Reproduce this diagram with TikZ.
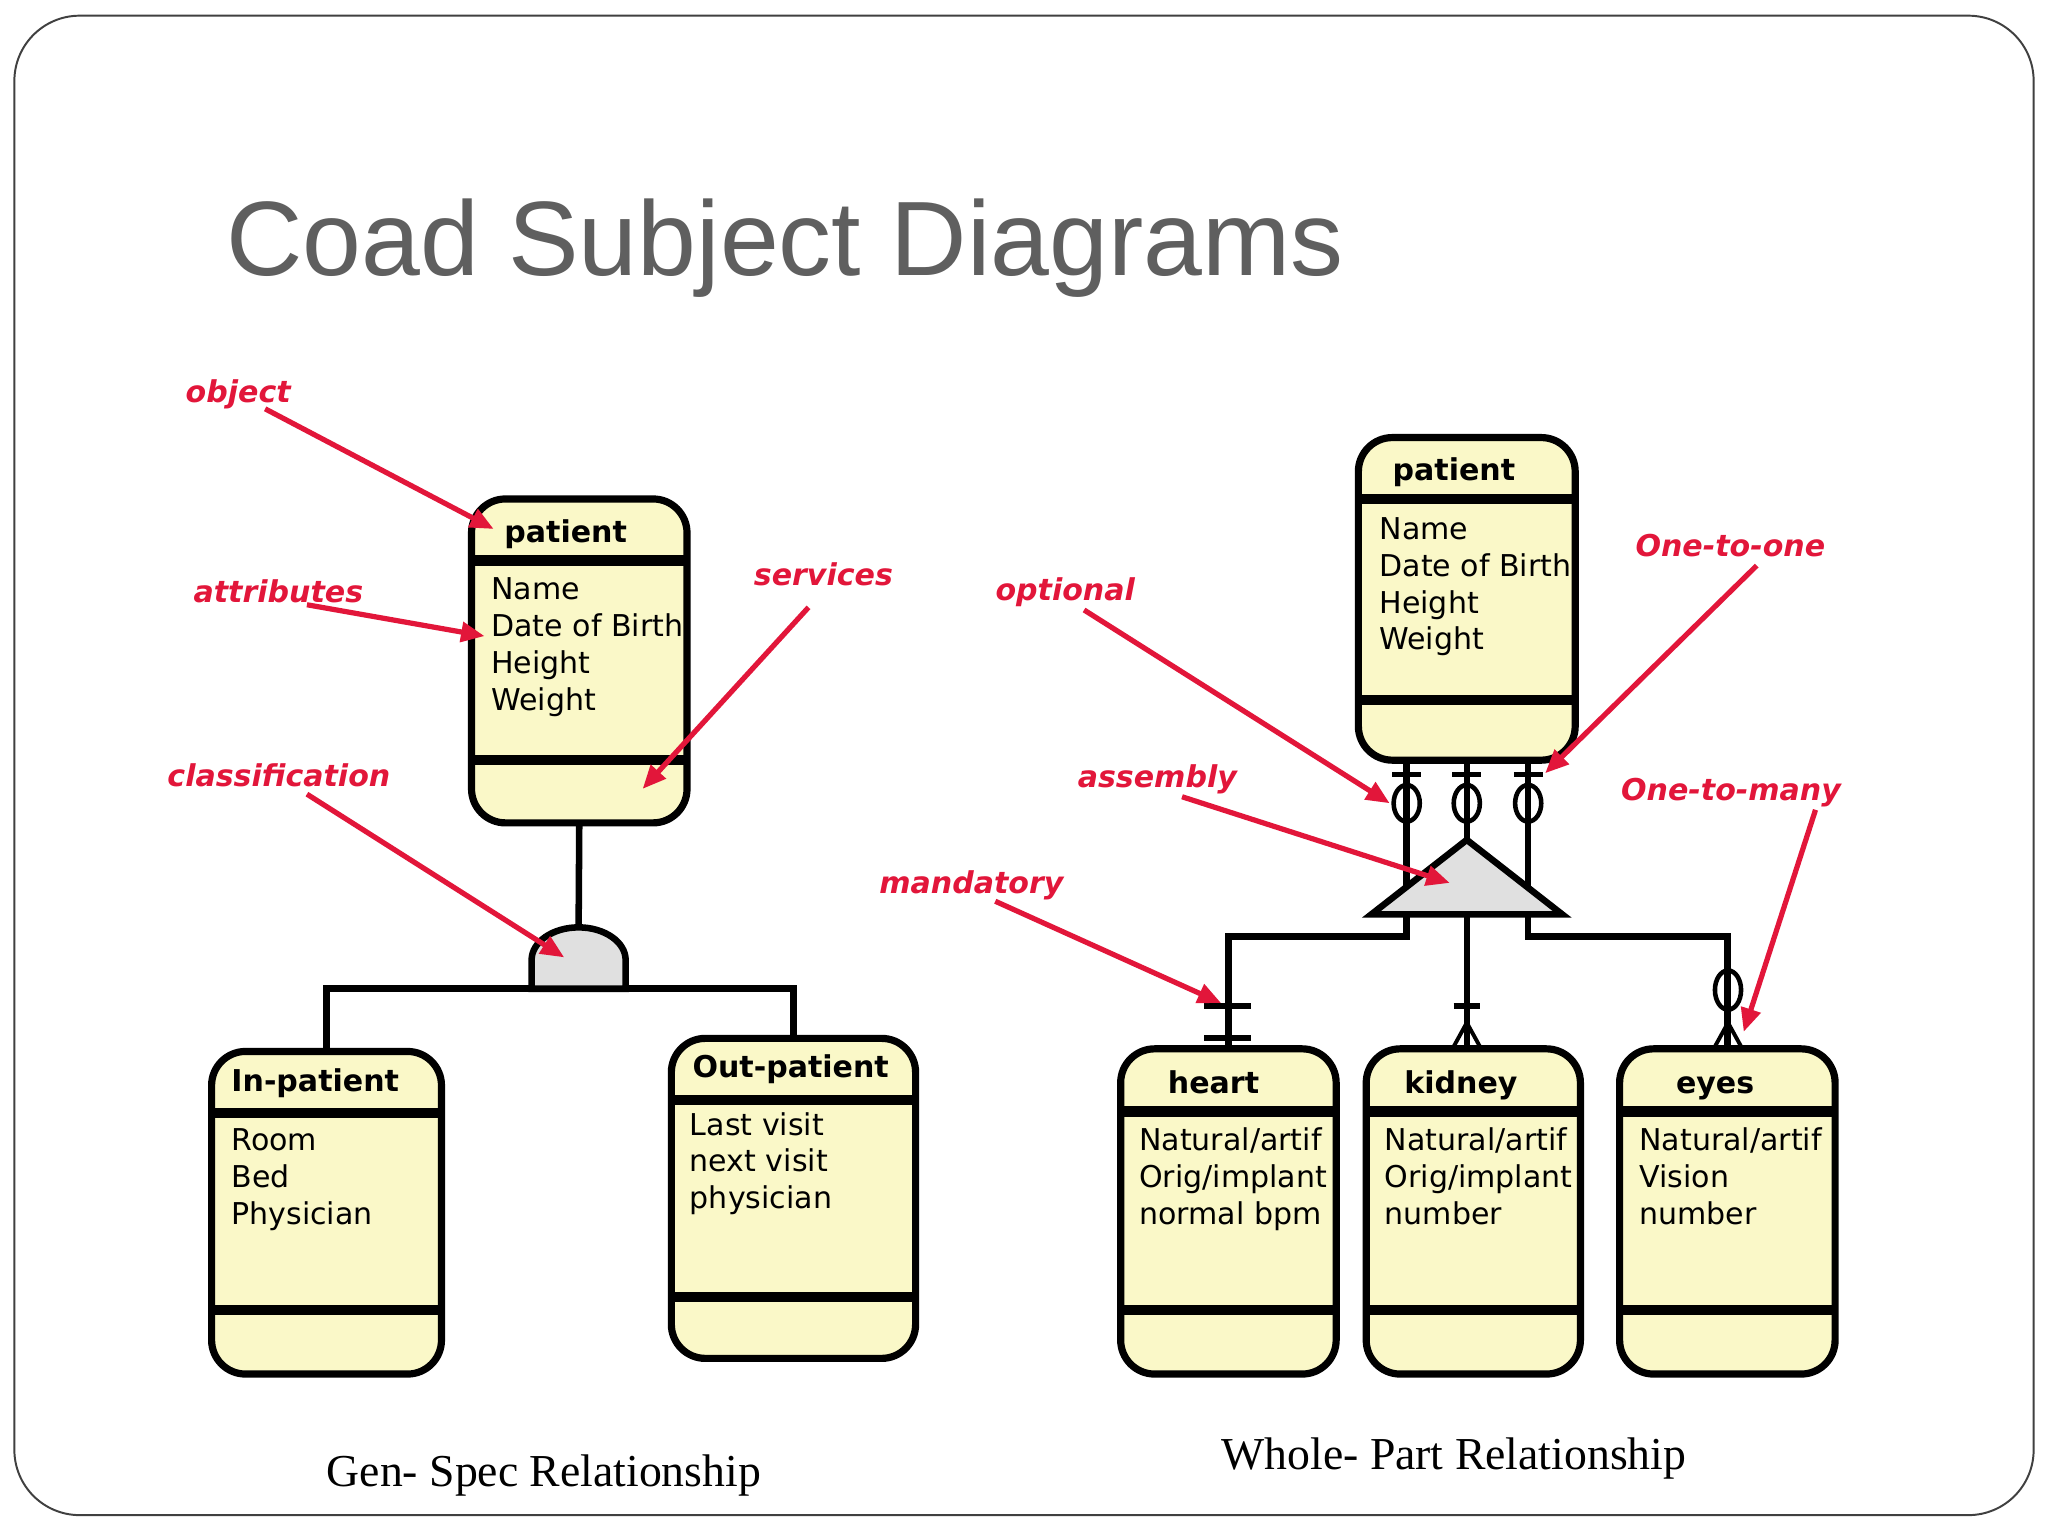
\documentclass[tikz,border=0pt]{standalone}
\usepackage{fontspec}
\setmainfont{Liberation Serif}
\newfontfamily\titlefont{Liberation Sans}
\newfontfamily\boxfont{DejaVu Sans}
\usetikzlibrary{arrows.meta,calc}
\definecolor{cream}{RGB}{250,248,200}
\definecolor{shapegray}{RGB}{224,224,224}
\definecolor{annred}{RGB}{226,22,58}
\definecolor{titlegray}{RGB}{95,95,95}
\newcommand\ClassBox[7]{%
  \node[classbox, anchor=north west, minimum width=#4pt, minimum height=#5pt] (#1) at (#2,#3) {};
  \draw[divider] ([yshift=-#6pt]#1.north west) -- ([yshift=-#6pt]#1.north east);
  \draw[divider] ([yshift=-#7pt]#1.north west) -- ([yshift=-#7pt]#1.north east);
}
\newcommand\AttrLines[4]{%
  \foreach \t [count=\i] in {#4} {\node[attr] (#1\i) at (#2,{#3+28.2*(\i-1)}) {\t};}
}
\begin{document}
\begin{tikzpicture}[x=1pt,y=-1pt,
  classbox/.style={draw, line width=5.5pt, fill=cream, rounded corners=26pt, inner sep=0pt, outer sep=0pt},
  divider/.style={line width=8pt},
  conn/.style={line width=5pt},
  markline/.style={line width=4.5pt},
  footline/.style={line width=3pt},
  boxtitle/.style={font=\boxfont\bfseries\fontsize{23}{28}\selectfont, anchor=base west, inner sep=0pt},
  attr/.style={font=\boxfont\fontsize{23}{28}\selectfont, anchor=base west, inner sep=0pt},
  ann/.style={font=\boxfont\bfseries\itshape\fontsize{23}{28}\selectfont, text=annred, anchor=base west, inner sep=0pt},
  annarrow/.style={draw=annred, line width=4pt, -{Triangle[length=18pt,width=15pt]}}
]
\useasboundingbox (0,0) rectangle (1568,1176);
\fill[white] (0,0) rectangle (1568,1176);
\draw[line width=1.5pt, draw=black!75, rounded corners=50pt] (11,12) rectangle (1557,1160);

% title
\node[font=\titlefont\fontsize{81}{90}\selectfont, text=titlegray, anchor=base west, inner sep=0pt] (title) at (173,211) {Coad Subject Diagrams};

% ---------- Gen-Spec ----------
\ClassBox{lp}{361}{382}{165}{248}{47}{200}
\node[boxtitle] (lpt) at (386,415) {patient};
\AttrLines{lpa}{376}{459}{Name,Date of Birth,Height,Weight}

\ClassBox{ip}{162}{805}{176}{247}{47}{198}
\node[boxtitle] (ipt) at (177,836) {In-patient};
\AttrLines{ipa}{177}{881}{Room,Bed,Physician}

\ClassBox{op}{514}{795}{187}{245}{47}{198}
\node[boxtitle] (opt) at (530,825) {Out-patient};
\AttrLines{opa}{528}{869}{Last visit,next visit,physician}

\coordinate (semitop) at (443,710);
\coordinate (semibase) at (443,757);
\draw[conn] (lp.south) -- (semitop);
\draw[conn] (ip.north) |- (semibase) -| (op.north);
\draw[conn, fill=shapegray] (407,757) -- (407,735) arc[start angle=180, end angle=0, x radius=36pt, y radius=25pt] -- (479,757) -- cycle;

% ---------- Whole-Part ----------
\ClassBox{rp}{1040}{335}{166}{247}{47}{201}
\node[boxtitle] (rpt) at (1066,368) {patient};
\AttrLines{rpa}{1056}{413}{Name,Date of Birth,Height,Weight}

\ClassBox{hb}{858}{803}{165}{249}{48}{200}
\node[boxtitle] (hbt) at (894,837) {heart};
\AttrLines{hba}{872}{881}{Natural/artif,Orig/implant,normal bpm}

\ClassBox{kb}{1046}{803}{164}{249}{48}{200}
\node[boxtitle] (kbt) at (1075,837) {kidney};
\AttrLines{kba}{1060}{881}{Natural/artif,Orig/implant,number}

\ClassBox{eb}{1240}{803}{165}{249}{48}{200}
\node[boxtitle] (ebt) at (1283,837) {eyes};
\AttrLines{eba}{1255}{881}{Natural/artif,Vision,number}

\coordinate (rl) at ($(rp.south)+(-46,0)$);
\coordinate (rr) at ($(rp.south)+(47,0)$);
\coordinate (apex) at (1123,643);
\coordinate (hj) at (1077,717);
\coordinate (ej) at (1170,717);
\draw[conn] (rl) -- (hj) -| (hb.north);
\draw[conn] (rr) -- (ej) -| (eb.north);
\draw[conn] (rp.south) -- (rp.south |- kb.north);
\draw[conn, fill=shapegray, line join=miter] (apex) -- (1196,700) -- (1050,700) -- cycle;

% top marks (one, optional)
\foreach \xx in {1077,1123,1170} {
  \draw[markline] (\xx-11,593) -- (\xx+11,593);
  \draw[line width=3.5pt] (\xx,615) ellipse [x radius=10pt, y radius=14pt];
}
% heart: mandatory one
\draw[markline] (922,770) -- (958,770);
\draw[markline] (922,795) -- (958,795);
% kidney: one-to-many mandatory
\draw[markline] (1113,770) -- (1133,770);
\draw[footline] (1112,803) -- (1123,783) -- (1134,803);
% eyes: optional many
\draw[line width=3.5pt] (1323,758) ellipse [x radius=10pt, y radius=15pt];
\draw[footline] (1312,803) -- (1323,783) -- (1334,803);

% captions
\node[font=\fontsize{35}{40}\selectfont, anchor=base west, inner sep=0pt] (cap1) at (250,1138) {Gen- Spec Relationship};
\node[font=\fontsize{35}{40}\selectfont, anchor=base west, inner sep=0pt] (cap2) at (935,1125) {Whole- Part Relationship};

% ---------- annotations ----------
\node[ann] (aobj) at (142,308) {object};
\node[ann] (aatt) at (148,461) {attributes};
\node[ann] (aser) at (577,448) {services};
\node[ann] (acls) at (128,602) {classification};
\node[ann] (aopt) at (762,460) {optional};
\node[ann] (aoto) at (1252,426) {One-to-one};
\node[ann] (aasm) at (825,603) {assembly};
\node[ann] (aotm) at (1241,613) {One-to-many};
\node[ann] (aman) at (673,684) {mandatory};

\coordinate (s1) at (203,313);  \coordinate (t1) at (378,405);
\coordinate (s2) at (235,463);  \coordinate (t2) at (371,487);
\coordinate (s3) at (619,465);  \coordinate (t3) at (492,604);
\coordinate (s4) at (235,608);  \coordinate (t4) at (432,733);
\coordinate (s5) at (830,467);  \coordinate (t5) at (1064,615);
\coordinate (s6) at (1345,433); \coordinate (t6) at (1183,592);
\coordinate (s7) at (905,610);  \coordinate (t7) at (1110,676);
\coordinate (s8) at (1390,620); \coordinate (t8) at (1335,790);
\coordinate (s9) at (762,690);  \coordinate (t9) at (935,768);
\foreach \k in {1,...,9} {\draw[annarrow] (s\k) -- (t\k);}
\end{tikzpicture}
\end{document}
